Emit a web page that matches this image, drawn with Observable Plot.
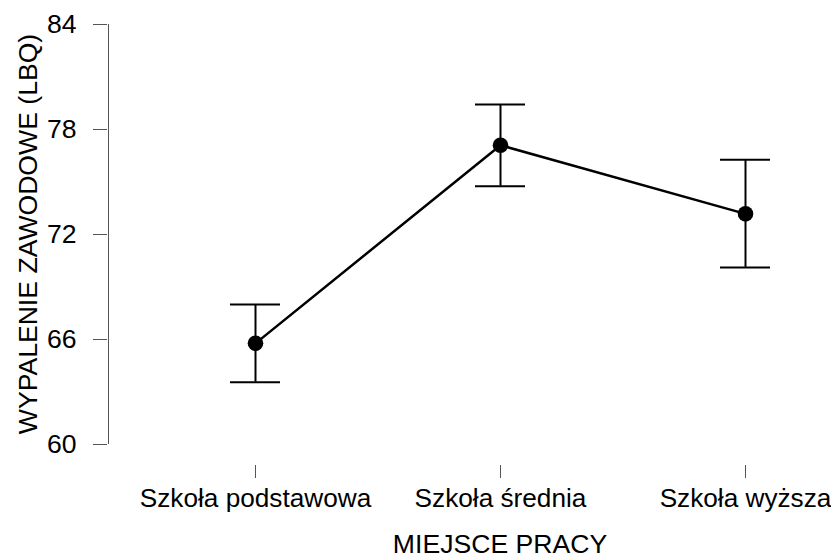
<!DOCTYPE html>
<html>
<head>
<meta charset="utf-8">
<script src="https://cdn.jsdelivr.net/npm/d3@7"></script>
<script src="https://cdn.jsdelivr.net/npm/@observablehq/plot@0.6"></script>
<style>
  html, body { margin: 0; padding: 0; background: #fff; }
  svg { overflow: visible; }
</style>
</head>
<body>
<div id="chart"></div>
<script>
// Mean burnout score (LBQ) by workplace, with confidence intervals
const categories = ["Szkoła podstawowa", "Szkoła średnia", "Szkoła wyższa"];
const means = [65.78, 77.1, 73.18];
const lower = [63.56, 74.76, 70.12];
const upper = [68.0, 79.43, 76.27];
const yTicks = [60, 66, 72, 78, 84];

const xTitle = "MIEJSCE PRACY";
const yTitle = "WYPALENIE ZAWODOWE (LBQ)";

const rows = categories.map((c, i) => ({cat: c, mean: means[i], lo: lower[i], hi: upper[i]}));

const font = "'Liberation Sans', Arial, Helvetica, sans-serif";
const fs = 26.6;
const axisStroke = "#555";

const chart = Plot.plot({
  width: 831,
  height: 557,
  marginLeft: 107,
  marginRight: 86,
  marginTop: 24,
  marginBottom: 92,
  style: {fontFamily: font, fontSize: fs + "px", color: "#000", background: "#fff"},
  x: {type: "point", domain: categories, range: [254, 745], padding: 0},
  y: {domain: [60, 84], range: [444, 24]},
  marks: [
    // y axis: ticks, labels and a line spanning the tick range
    Plot.axisY(yTicks, {tickSize: 14, tickPadding: 17, stroke: axisStroke, fill: "#000", fontSize: fs, label: null}),
    Plot.ruleX([categories[0]], {y1: yTicks[0], y2: yTicks[yTicks.length - 1], dx: -147, stroke: axisStroke, strokeWidth: 1}),
    // x axis: ticks, labels and a line spanning the categories
    Plot.axisX(categories, {tickSize: 13, tickPadding: 10, stroke: axisStroke, fill: "#000", fontSize: 26.2, label: null}),
    Plot.ruleY([yTicks[0]], {x1: categories[0], x2: categories[categories.length - 1], dy: 21, stroke: axisStroke, strokeWidth: 1}),
    // axis titles
    Plot.text([xTitle], {frameAnchor: "bottom", dx: 73.5, dy: 87, textAnchor: "middle", lineAnchor: "bottom", fontSize: fs, fill: "#000"}),
    Plot.text([yTitle], {frameAnchor: "left", dx: -79, dy: -11, rotate: -90, textAnchor: "middle", lineAnchor: "middle", fontSize: fs, fill: "#000"}),
    // confidence interval whiskers with caps
    Plot.ruleX(rows, {x: "cat", y1: "lo", y2: "hi", stroke: "#000", strokeWidth: 2}),
    Plot.ruleY(rows, {y: "lo", x1: "cat", x2: "cat", insetLeft: -25, insetRight: -25, stroke: "#000", strokeWidth: 2}),
    Plot.ruleY(rows, {y: "hi", x1: "cat", x2: "cat", insetLeft: -25, insetRight: -25, stroke: "#000", strokeWidth: 2}),
    // means connected by a line
    Plot.line(rows, {x: "cat", y: "mean", stroke: "#000", strokeWidth: 2.5}),
    Plot.dot(rows, {x: "cat", y: "mean", r: 7.8, fill: "#000", stroke: "none"})
  ]
});

document.getElementById("chart").appendChild(chart);
</script>
</body>
</html>
